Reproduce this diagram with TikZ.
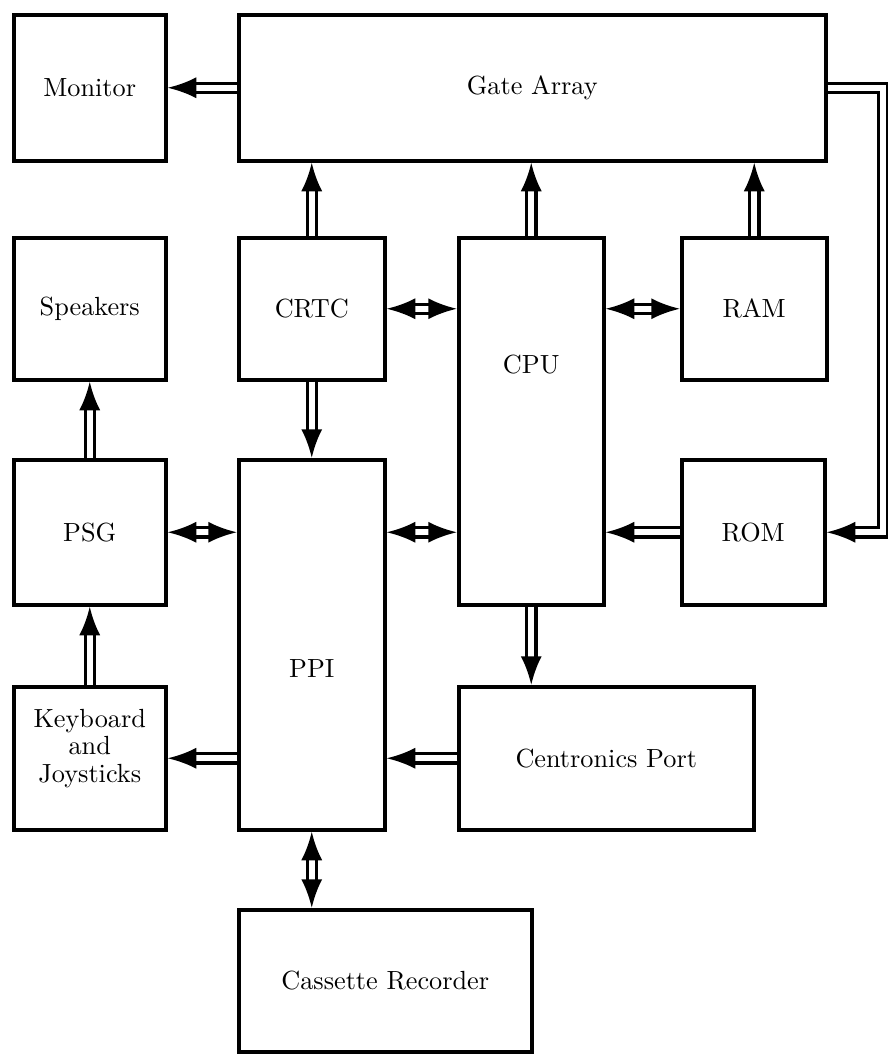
\documentclass[tikz,border=0pt]{standalone}
\usetikzlibrary{arrows.meta,positioning}

\tikzset{
  blk/.style={draw, line width=1.4pt, anchor=north west, align=center,
    inner sep=0pt, font=\fontsize{10.5}{11}\selectfont},
  txt/.style={align=center, inner sep=0pt, font=\fontsize{10.5}{11}\selectfont},
  wh/.style 2 args={minimum width=#1*0.4pt, minimum height=#2*0.4pt},
  bus/.style={double, double distance=2.4pt, line width=1.3pt,
    -{Latex[length=11.5pt,width=8.5pt]}},
  bibus/.style={double, double distance=2.4pt, line width=1.3pt,
    {Latex[length=11.5pt,width=8.5pt]}-{Latex[length=11.5pt,width=8.5pt]}},
}

\begin{document}
\begin{tikzpicture}[x=0.4pt,y=-0.4pt]
	\useasboundingbox (0,0) rectangle (888,1056);
	\node[blk,wh={152}{146}](mon) at (12,13){Monitor};
	\node[blk,wh={587}{146}](ga) at (237,13){Gate Array};
	\node[blk,wh={152}{142}](spk) at (12,236){Speakers};
	\node[blk,wh={146}{142}](crtc) at (237,236){CRTC};
	\node[blk,wh={145}{367},label={[txt,yshift=22.8pt]center:CPU}](cpu) at (457,236){};
	\node[blk,wh={145}{142}](ram) at (680,236){RAM};
	\node[blk,wh={152}{145}](psg) at (12,458){PSG};
	\node[blk,wh={146}{370},label={[txt,yshift=-9.5pt]center:PPI}](ppi) at (237,458){};
	\node[blk,wh={143}{145}](rom) at (680,458){ROM};
	\node[blk,wh={152}{143},label={[txt,yshift=4pt]center:Keyboard\\and\\Joysticks}](kbd) at (12,685){};
	\node[blk,wh={295}{143}](cen) at (457,685){Centronics Port};
	\node[blk,wh={293}{142}](cas) at (237,908){Cassette Recorder};
	\coordinate (pipe) at (883,0);
	% buses
	\draw[bus](ga.west |- mon.east) -- (mon.east);
	\draw[bus](crtc.north) -- (crtc.north |- ga.south);
	\draw[bus](cpu.north) -- (cpu.north |- ga.south);
	\draw[bus](ram.north) -- (ram.north |- ga.south);
	\draw[bibus](crtc.east) -- (crtc.east -| cpu.west);
	\draw[bibus](cpu.east |- ram.west) -- (ram.west);
	\draw[bus](crtc.south) -- (crtc.south |- ppi.north);
	\draw[bus](psg.north) -- (spk.south);
	\draw[bibus](psg.east) -- (psg.east -| ppi.west);
	\draw[bibus](ppi.east |- rom.west) -- (cpu.west |- rom.west);
	\draw[bus](rom.west) -- (rom.west -| cpu.east);
	\draw[bus](ga.east) -- (ga.east -| pipe) -- (pipe |- rom.east) -- (rom.east);
	\draw[bus](kbd.north) -- (psg.south);
	\draw[bus](ppi.west |- kbd.east) -- (kbd.east);
	\draw[bus](cen.west) -- (cen.west -| ppi.east);
	\draw[bus](cpu.south) -- (cpu.south |- cen.north);
	\draw[bibus](ppi.south) -- (ppi.south |- cas.north);
\end{tikzpicture}
\end{document}
